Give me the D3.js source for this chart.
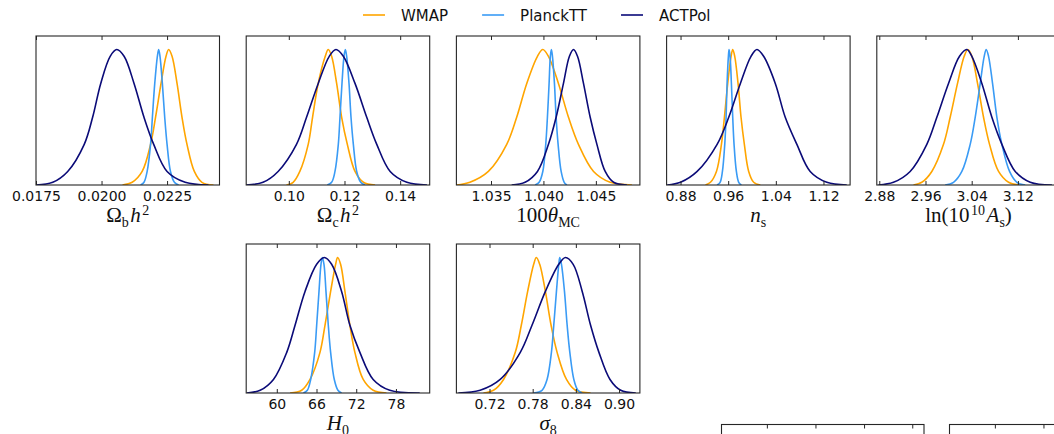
<!DOCTYPE html>
<html>
<head>
<meta charset="utf-8">
<script src="https://cdn.jsdelivr.net/npm/d3@7"></script>
<style>
  html, body { margin: 0; padding: 0; background: #fff; }
  svg { display: block; }
  .tick-label { font-family: "DejaVu Sans", sans-serif; font-size: 14px; fill: #111; }
  .legend-label { font-family: "DejaVu Sans", sans-serif; font-size: 15px; fill: #111; }
  .math-label { font-family: "Liberation Serif", "DejaVu Serif", serif; font-size: 21px; fill: #111; }
</style>
</head>
<body>
<svg id="chart" width="1054" height="434"></svg>
<script>

// Series (legend order) and their colours
var seriesNames = ["WMAP", "PlanckTT", "ACTPol"];
var seriesColors = ["#ffa500", "#3a9bf5", "#0b0b78"];

// Axis labels, written as [text, style] pieces (style: r roman, i italic, sub, sup)
var panelLabels = [
	[["Ω", "r"], ["b", "sub"], ["h", "i"], ["2", "sup"]],
	[["Ω", "r"], ["c", "sub"], ["h", "i"], ["2", "sup"]],
	[["100", "r"], ["θ", "i"], ["MC", "sub"]],
	[["n", "i"], ["s", "sub"]],
	[["ln(10", "r"], ["10", "sup"], ["A", "i"], ["s", "sub"], [")", "r"]],
	[["H", "i"], ["0", "sub"]],
	[["σ", "i"], ["8", "sub"]]
];

// x ranges and tick values of the seven panels
var panelDomains = [
	[0.0175, 0.0245], [0.0847, 0.1506], [1.0317, 1.0492], [0.8566, 1.1647],
	[2.8757, 3.1934], [55.38, 83.10], [0.674, 0.929]
];
var panelTicks = [
	[0.0175, 0.0200, 0.0225], [0.10, 0.12, 0.14], [1.035, 1.040, 1.045],
	[0.88, 0.96, 1.04, 1.12], [2.88, 2.96, 3.04, 3.12], [60, 66, 72, 78],
	[0.72, 0.78, 0.84, 0.90]
];
var tickFormats = [".4f", ".2f", ".3f", ".2f", ".2f", "d", ".2f"];

// Grid cell (row, column) of each panel
var panelCells = [[0, 0], [0, 1], [0, 2], [0, 3], [0, 4], [1, 1], [1, 2]];

// Relative posterior height at each sampled x (same for every curve)
var densityLevels = [0, 0.02, 0.1, 0.3, 0.5, 0.75, 0.95, 1, 0.95, 0.75, 0.5, 0.3, 0.1, 0.02, 0];

// Sampled x positions of each 1D posterior, one row per panel
var wmapX = [
	[0.02080, 0.02117, 0.02155, 0.02187, 0.02206, 0.02227, 0.02246, 0.02256, 0.02269, 0.02288, 0.02307, 0.02326, 0.02354, 0.02383, 0.02427],
	[0.09916, 0.10156, 0.10396, 0.10697, 0.10853, 0.11057, 0.11309, 0.11417, 0.11538, 0.11718, 0.11898, 0.12102, 0.12378, 0.12679, 0.13099],
	[1.03172, 1.03299, 1.03475, 1.03650, 1.03745, 1.03841, 1.03943, 1.03994, 1.04048, 1.04143, 1.04239, 1.04334, 1.04478, 1.04637, 1.04844],
	[0.92186, 0.93023, 0.94028, 0.94865, 0.95367, 0.95926, 0.96484, 0.96763, 0.97098, 0.97656, 0.98158, 0.98716, 0.99442, 1.00279, 1.01395],
	[2.93921, 2.95365, 2.97097, 2.99119, 3.00274, 3.01545, 3.02700, 3.03336, 3.04029, 3.05011, 3.06050, 3.07090, 3.08649, 3.10382, 3.12404],
	[62.008, 63.766, 65.021, 66.527, 67.280, 68.134, 68.887, 69.188, 69.640, 70.293, 71.046, 71.799, 73.054, 74.561, 76.569],
	[0.71163, 0.72558, 0.73953, 0.75581, 0.76419, 0.77302, 0.78140, 0.78512, 0.78977, 0.79767, 0.80558, 0.81395, 0.82698, 0.83953, 0.86047]
];
var planckX = [
	[0.02149, 0.02162, 0.02174, 0.02187, 0.02194, 0.02203, 0.02213, 0.02218, 0.02223, 0.02232, 0.02241, 0.02250, 0.02263, 0.02278, 0.02294],
	[0.11381, 0.11538, 0.11658, 0.11778, 0.11838, 0.11910, 0.11982, 0.12030, 0.12078, 0.12162, 0.12234, 0.12318, 0.12438, 0.12583, 0.12739],
	[1.03920, 1.03959, 1.03994, 1.04022, 1.04038, 1.04054, 1.04066, 1.04076, 1.04086, 1.04105, 1.04121, 1.04140, 1.04169, 1.04198, 1.04223],
	[0.94140, 0.94642, 0.95033, 0.95423, 0.95647, 0.95814, 0.96037, 0.96149, 0.96316, 0.96540, 0.96763, 0.96986, 0.97377, 0.97767, 0.98214],
	[2.99408, 3.00852, 3.02296, 3.03740, 3.04606, 3.05473, 3.06166, 3.06512, 3.06917, 3.07610, 3.08361, 3.09227, 3.10556, 3.11826, 3.13270],
	[64.017, 64.619, 65.121, 65.724, 66.025, 66.377, 66.678, 66.879, 67.130, 67.431, 67.782, 68.134, 68.686, 69.238, 69.791],
	[0.78140, 0.79302, 0.80000, 0.80605, 0.80930, 0.81302, 0.81628, 0.81767, 0.82000, 0.82419, 0.82791, 0.83163, 0.83721, 0.84279, 0.84884]
];
var actpolX = [
	[0.01751, 0.01814, 0.01871, 0.01934, 0.01966, 0.01997, 0.02033, 0.02058, 0.02086, 0.02124, 0.02162, 0.02199, 0.02250, 0.02319, 0.02408],
	[0.08474, 0.09075, 0.09616, 0.10276, 0.10637, 0.11057, 0.11453, 0.11694, 0.11958, 0.12378, 0.12799, 0.13159, 0.13640, 0.14240, 0.14961],
	[1.03697, 1.03825, 1.03943, 1.04048, 1.04121, 1.04191, 1.04248, 1.04287, 1.04325, 1.04382, 1.04446, 1.04510, 1.04589, 1.04669, 1.04796],
	[0.85767, 0.88000, 0.90791, 0.94140, 0.96093, 0.98047, 0.99833, 1.00837, 1.01953, 1.03907, 1.05581, 1.07535, 1.09767, 1.12558, 1.15907],
	[2.87856, 2.90455, 2.93343, 2.96231, 2.97964, 2.99985, 3.01892, 3.03162, 3.04029, 3.05761, 3.07494, 3.09227, 3.11537, 3.14137, 3.17891],
	[55.481, 57.490, 59.498, 61.506, 62.761, 64.268, 66.025, 67.180, 68.285, 69.791, 71.046, 72.552, 74.561, 77.071, 81.590],
	[0.67674, 0.70698, 0.73488, 0.76279, 0.77907, 0.79767, 0.81628, 0.82558, 0.83628, 0.84884, 0.86047, 0.87209, 0.88744, 0.90233, 0.92326]
];
var seriesX = [wmapX, planckX, actpolX];

// Layout
var svg = d3.select("#chart");
var panelW = 183.5, panelH = 149;
var colLeft = function(c) { return 36 + c * 210.2; };
var rowTop = function(r) { return 36 + r * 208; };
var frameColor = "#262626";

function drawPanel(p) {
	var cell = panelCells[p];
	var x0 = colLeft(cell[1]), y0 = rowTop(cell[0]);
	var g = svg.append("g").attr("transform", "translate(" + x0 + "," + y0 + ")");

	var x = d3.scaleLinear().domain(panelDomains[p]).range([0, panelW]);
	var y = d3.scaleLinear().domain([0, 1.1]).range([panelH, 0]);

	g.append("clipPath").attr("id", "clip" + p)
		.append("rect").attr("width", panelW).attr("height", panelH);

	// The posterior curves (ACTPol drawn last, on top):
	var line = d3.line()
		.x(function(d) { return x(d[0]); })
		.y(function(d) { return Math.min(y(d[1]), panelH); })
		.curve(d3.curveCatmullRom.alpha(0.5));

	seriesNames.forEach(function(name, s) {
		var pts = seriesX[s][p].map(function(v, k) { return [v, densityLevels[k]]; });
		g.append("path")
			.attr("clip-path", "url(#clip" + p + ")")
			.attr("d", line(pts))
			.attr("fill", "none")
			.attr("stroke", seriesColors[s])
			.attr("stroke-width", 1.6);
	});

	// Bottom axis with inward ticks, and the same ticks on top:
	var fmt = d3.format(tickFormats[p]);
	var bottom = g.append("g").attr("transform", "translate(0," + panelH + ")")
		.call(d3.axisBottom(x).tickValues(panelTicks[p]).tickSize(-4).tickFormat(fmt));
	bottom.attr("font-size", null).attr("font-family", null);
	bottom.selectAll("text").attr("class", "tick-label").attr("y", 6).attr("dy", "0.71em");
	var top = g.append("g")
		.call(d3.axisTop(x).tickValues(panelTicks[p]).tickSize(-4).tickFormat(""));
	[bottom, top].forEach(function(a) {
		a.select(".domain").remove();
		a.selectAll("line").attr("stroke", frameColor);
	});

	// The frame:
	g.append("rect")
		.attr("width", panelW).attr("height", panelH)
		.attr("fill", "none").attr("stroke", frameColor).attr("stroke-width", 1.1);

	// The math axis label:
	var t = g.append("text").attr("class", "math-label")
		.attr("x", panelW / 2).attr("y", panelH + 37).attr("text-anchor", "middle");
	var shift = 0;
	panelLabels[p].forEach(function(part) {
		var target = part[1] === "sub" ? 5 : (part[1] === "sup" ? -7 : 0);
		t.append("tspan")
			.attr("dy", target - shift)
			.attr("dx", part[1] === "sup" ? 1.5 : (part[1] === "i" && shift !== 0 ? 1.5 : 0))
			.attr("font-style", part[1] === "i" ? "italic" : "normal")
			.attr("font-size", (part[1] === "sub" || part[1] === "sup") ? "14px" : null)
			.text(part[0]);
		shift = target;
	});
}

panelCells.forEach(function(c, p) { drawPanel(p); });

// Legend across the top:
var lx = 363;
seriesNames.forEach(function(name, s) {
	svg.append("line")
		.attr("x1", lx).attr("x2", lx + 22).attr("y1", 15).attr("y2", 15)
		.attr("stroke", seriesColors[s]).attr("stroke-width", 1.6);
	var txt = svg.append("text").attr("class", "legend-label")
		.attr("x", lx + 38).attr("y", 21).text(name);
	lx += 38 + txt.node().getComputedTextLength() + 34;
});

// Tops of the next figure's panels, cut by the bottom edge:
var nextLeft = [721.5, 949.5];
nextLeft.forEach(function(left) {
	var w = 202.5;
	var g = svg.append("g").attr("transform", "translate(" + left + ",424.5)");
	var x = d3.scaleLinear().domain([0, 1]).range([0, w]);
	g.call(d3.axisTop(x).tickValues([0.224, 0.464, 0.704, 0.942]).tickSize(-4).tickFormat(""));
	g.select(".domain").remove();
	g.selectAll("line").attr("stroke", frameColor);
	g.append("rect").attr("width", w).attr("height", 40)
		.attr("fill", "none").attr("stroke", frameColor).attr("stroke-width", 1.1);
});

</script>
</body>
</html>
